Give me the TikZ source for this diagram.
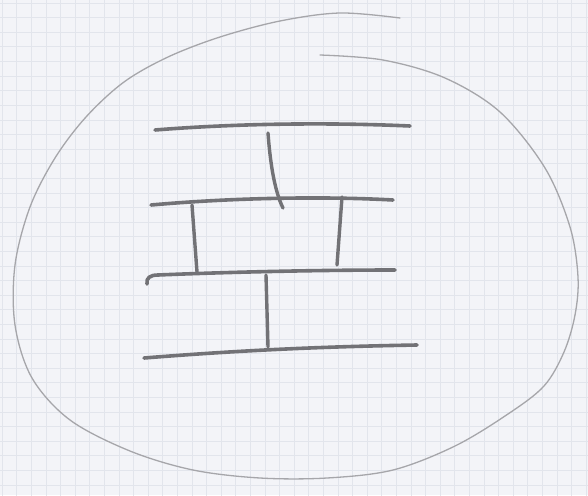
\documentclass[tikz,border=0pt]{standalone}
\usetikzlibrary{calc}
\definecolor{paper}{HTML}{F3F4F8}
\definecolor{gridc}{HTML}{E2E5EC}
\definecolor{pencil}{HTML}{727276}
\definecolor{lightpencil}{HTML}{A6A6AA}
\tikzset{
  bar/.style={draw=pencil, line width=3.6pt, line cap=round, line join=round},
  rung/.style={draw=pencil, line width=3.4pt, line cap=round},
  outline/.style={draw=lightpencil, line width=1.3pt, line cap=round},
  gridline/.style={draw=gridc, line width=0.6pt},
}
\begin{document}
\begin{tikzpicture}[x=1pt,y=-1pt]
\useasboundingbox (0,0) rectangle (588,495);
\fill[paper] (0,0) rectangle (588,495);
\draw[gridline, step=14.6pt, shift={(2,3)}] (-2,-3) grid (588,495);
% enclosing curve (open, overlapping at the top)
\draw[outline] plot[smooth, tension=0.55] coordinates {
 (400,18) (340,13) (280,21) (220,37) (168,57) (124,82) (86,117) (55,158)
 (30,207) (15,265) (15,325) (32,378) (70,420) (130,451) (193,470) (260,478)
 (327,478) (393,470) (455,446) (508,414) (544,386) (564,352) (575,315) (578,277)
 (570,227) (545,168) (500,112) (445,78) (383,60) (320,55)};
% horizontal bars
\draw[bar] (155,130) .. controls (230,124) and (320,122) .. (410,126);
\draw[bar] (151,205) .. controls (230,198) and (320,196) .. (393,200);
\draw[bar] (147,284) .. controls (146,278) and (150,275) .. (158,275)
  .. controls (230,272) and (320,270) .. (395,270);
\draw[bar] (144,358) .. controls (220,352) and (300,347) .. (417,345);
% vertical rungs
\draw[rung] (268,133) .. controls (270,160) and (274,190) .. (283,208);
\draw[rung] (192,205) -- (197,272);
\draw[rung] (342,197) -- (337,265);
\draw[rung] (266,275) -- (268,347);
\end{tikzpicture}
\end{document}
